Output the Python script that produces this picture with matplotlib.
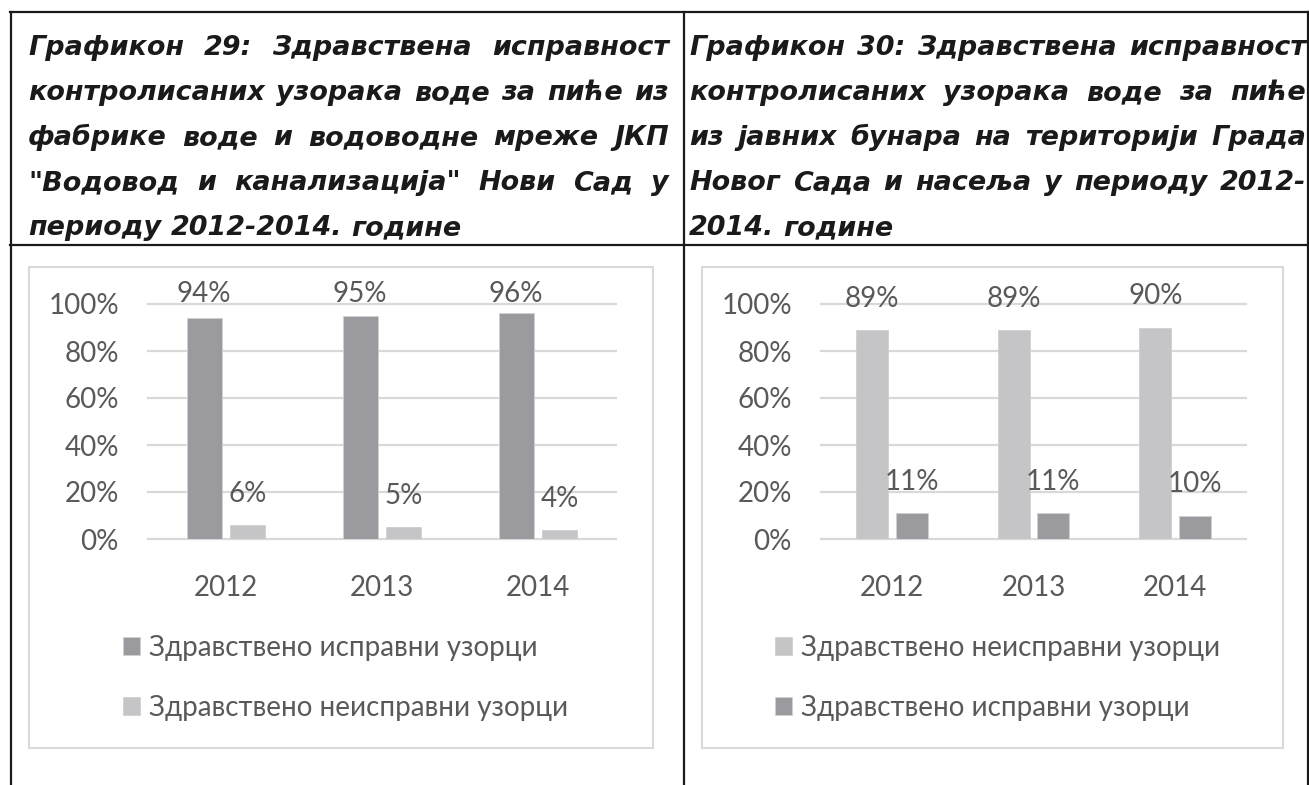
import numpy as np
import matplotlib
matplotlib.use('Agg')
import matplotlib.pyplot as plt
from matplotlib.lines import Line2D
from matplotlib.patches import Rectangle

W, H = 1309, 785

years = ['2012', '2013', '2014']
ispravni_29 = [94, 95, 96]
neispravni_29 = [6, 5, 4]
neispravni_30 = [89, 89, 90]
ispravni_30 = [11, 11, 10]
y_ticks = [0, 20, 40, 60, 80, 100]
lbl_ok = 'Здравствено исправни узорци'
lbl_bad = 'Здравствено неисправни узорци'

title_29 = ['Графикон 29: Здравствена исправност',
            'контролисаних узорака воде за пиће из',
            'фабрике воде и водоводне мреже ЈКП',
            '"Водовод и канализација" Нови Сад у',
            'периоду 2012-2014. године']
title_30 = ['Графикон 30: Здравствена исправност',
            'контролисаних узорака воде за пиће',
            'из јавних бунара на територији Града',
            'Новог Сада и насеља у периоду 2012-',
            '2014. године']

dark = '#9b9b9f'
light = '#c5c5c7'
txt = '#595959'
grid_c = '#d9d9d9'
fs = 20

plt.rcParams['font.family'] = ['Lato', 'DejaVu Sans']

fig = plt.figure(figsize=(W / 100, H / 100), dpi=100)


def fx(x):
    return x / W


def fy(y):
    return 1 - y / H


# table borders
def hline(x0, x1, y):
    fig.add_artist(Line2D([fx(x0), fx(x1)], [fy(y), fy(y)], transform=fig.transFigure,
                          color='#1a1a1a', lw=1.6))


def vline(x, y0, y1):
    fig.add_artist(Line2D([fx(x), fx(x)], [fy(y0), fy(y1)], transform=fig.transFigure,
                          color='#1a1a1a', lw=1.6))


hline(10, 1309, 12)
hline(10, 1309, 245)
vline(11, 12, 785)
vline(684, 12, 785)
vline(1308, 12, 785)

# chart frames
for x0, x1 in [(29, 653), (702, 1283)]:
    fig.add_artist(Rectangle((fx(x0), fy(748)), fx(x1) - fx(x0), fy(267) - fy(748),
                             transform=fig.transFigure, fill=False, ec=grid_c, lw=1.5))

# titles, justified
tprops = dict(family='DejaVu Sans', fontweight='bold', fontstyle='italic',
              color='#1a1a1a')
r = fig.canvas.get_renderer()


def text_w(s, size):
    t = fig.text(0, 0, s, fontsize=size, **tprops)
    w = t.get_window_extent(r).width
    t.remove()
    return w


def justified(lines, x0, x1, base0, step, size):
    sp = text_w('a a', size) - text_w('aa', size)
    for i, line in enumerate(lines):
        words = line.split()
        yy = fy(base0 + i * step)
        ts = [fig.text(0, yy, w, fontsize=size, va='baseline', **tprops) for w in words]
        ws = [t.get_window_extent(r).width for t in ts]
        if i < len(lines) - 1 and len(words) > 1:
            gap = (x1 - x0 - sum(ws)) / (len(words) - 1)
        else:
            gap = sp
        x = x0
        for t, w in zip(ts, ws):
            t.set_x(fx(x))
            x += w + gap


fs_t = 21
for lines, x0, x1 in [(title_29, 28, 669), (title_30, 689, 1306)]:
    for ln in lines[:-1]:
        fs_t = min(fs_t, 20 * (x1 - x0) / text_w(ln, 20) * 0.985)

justified(title_29, 28, 669, 55, 45, fs_t)
justified(title_30, 689, 1306, 55, 45, fs_t)


# charts
def chart(left, right, s1, s2, c1, c2, l1, l2, leg_x, fixed_top=None):
    ax = fig.add_axes([fx(left), fy(539), fx(right) - fx(left), fy(304) - fy(539)])
    x = np.arange(len(years))
    w = 0.225
    off = 0.14
    b1 = ax.bar(x - off, s1, w, color=c1, ec='#d0d0d2', lw=0.6, label=l1, zorder=3)
    b2 = ax.bar(x + off, s2, w, color=c2, ec='#d0d0d2', lw=0.6, label=l2, zorder=3)
    ax.set_xlim(-0.5, 2.5)
    ax.set_ylim(0, 100)
    ax.set_yticks(y_ticks)
    ax.set_yticklabels([f'{v}%' for v in y_ticks])
    ax.set_xticks(x)
    ax.set_xticklabels(years)
    for s in ax.spines.values():
        s.set_visible(False)
    ax.tick_params(axis='both', length=0, labelsize=fs, labelcolor=txt)
    ax.tick_params(axis='y', pad=21)
    ax.tick_params(axis='x', pad=26)
    ax.yaxis.grid(True, color=grid_c, lw=1.6, zorder=0)
    for gl in ax.get_ygridlines():
        gl.set_clip_on(False)
    ax.set_axisbelow(True)
    for xi, v in zip(x, s1):
        yl = fixed_top if fixed_top is not None else v + 9.8
        ax.text(xi - off, yl, f'{v}%', ha='center', va='baseline', fontsize=fs,
                color=txt, clip_on=False)
    for xi, v in zip(x, s2):
        ax.text(xi + off, v + 9.8, f'{v}%', ha='center', va='baseline', fontsize=fs,
                color=txt, clip_on=False)
    ax.legend(handles=[b1, b2], loc='upper left', bbox_to_anchor=(fx(leg_x), fy(635)),
              bbox_transform=fig.transFigure, frameon=False, fontsize=fs,
              handlelength=0.62, handleheight=0.62, handletextpad=0.3,
              labelspacing=1.22, borderpad=0, borderaxespad=0, labelcolor=txt)
    return ax


chart(148, 616, ispravni_29, neispravni_29, dark, light, lbl_ok, lbl_bad, 123, fixed_top=101)
chart(821, 1246, neispravni_30, ispravni_30, light, dark, lbl_bad, lbl_ok, 775)

fig.savefig('out.png', dpi=100)
